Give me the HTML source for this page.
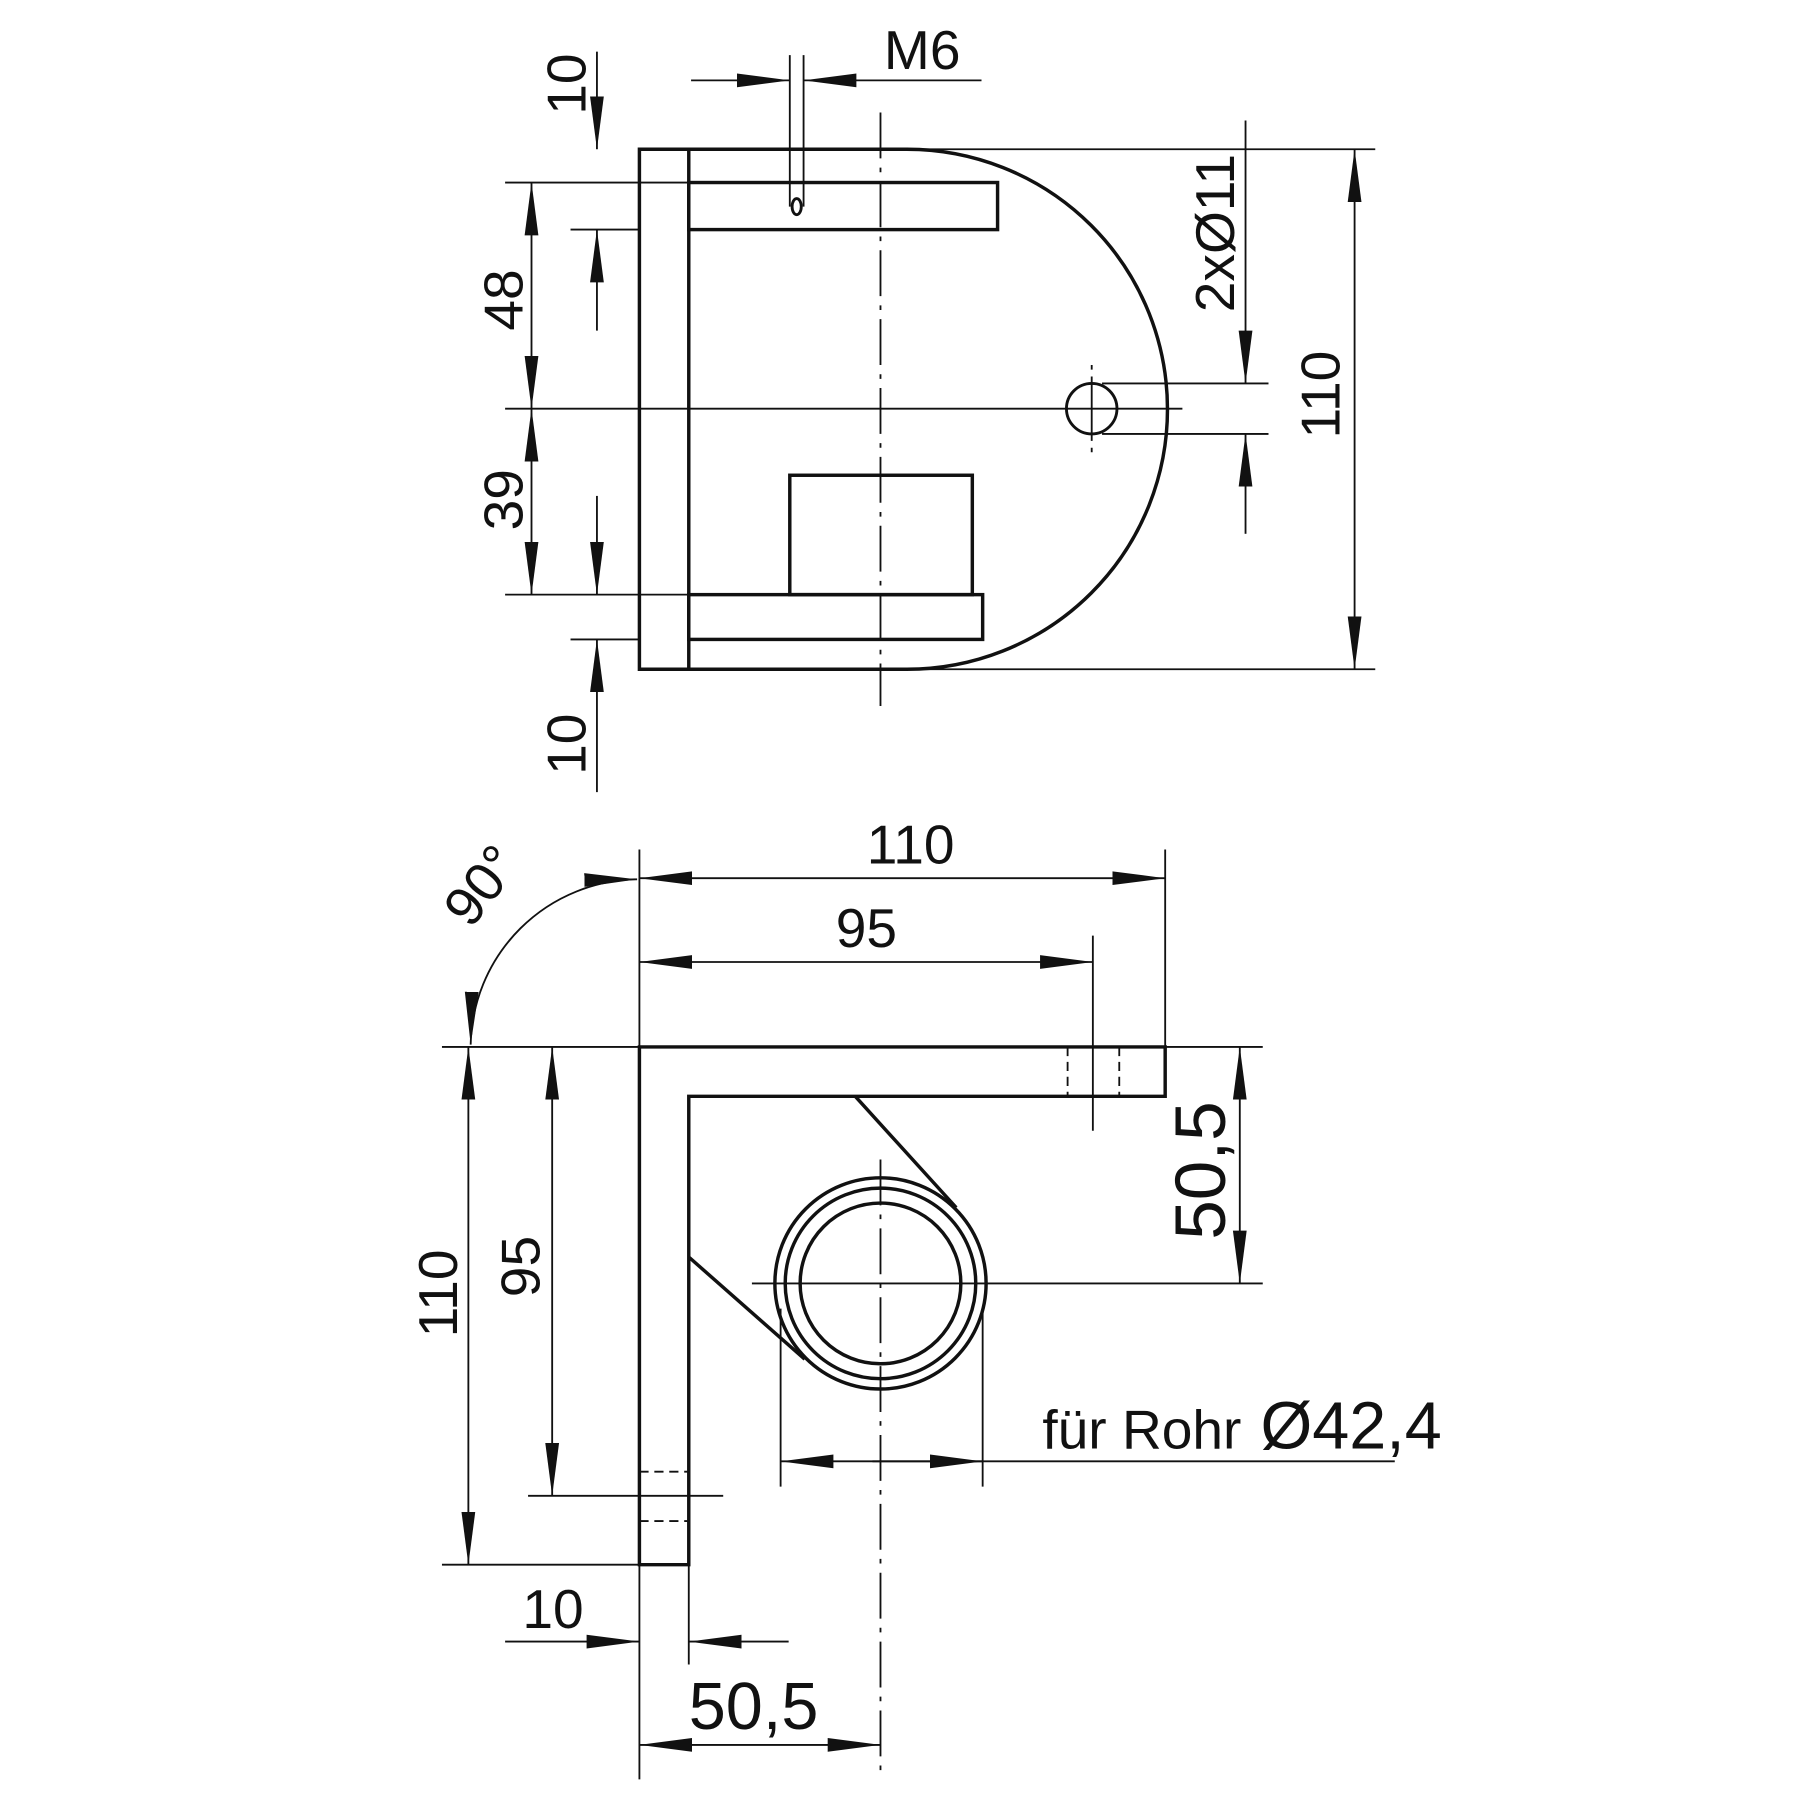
<!DOCTYPE html>
<html><head><meta charset="utf-8"><style>html,body{margin:0;padding:0;background:#fff}svg{display:block}text{font-family:"Liberation Sans",sans-serif;fill:#111}</style></head><body>
<svg width="1800" height="1800" viewBox="0 0 1568 1568" xmlns="http://www.w3.org/2000/svg">
<defs>
<marker id="a" markerUnits="userSpaceOnUse" markerWidth="48" markerHeight="14" refX="46" refY="7" orient="auto-start-reverse"><path d="M0,1 L46,7 L0,13 Z" fill="#111"/></marker>
</defs>
<g stroke="#111" fill="none" stroke-width="2.5">
<path d="M557,130 L790,130 A227,226.5 0 0 1 790,583 L557,583 Z" stroke-width="3"/>
<line x1="600" y1="130" x2="600" y2="583" stroke-width="3"/>
<rect x="600" y="159" width="269" height="41" stroke-width="3"/>
<rect x="600" y="518" width="256" height="39" stroke-width="3"/>
<rect x="688" y="414" width="159" height="104" stroke-width="3"/>
<ellipse cx="694" cy="180" rx="4" ry="7"/>
<circle cx="951" cy="356" r="22"/>
</g>
<g stroke="#111" fill="none" stroke-width="1.6">
<line x1="767" y1="98" x2="767" y2="615" stroke-dasharray="40,8,4,8"/>
<line x1="951" y1="318" x2="951" y2="396" stroke-dasharray="4,6,56,6,4"/>
<line x1="440" y1="356" x2="1030" y2="356"/>
<line x1="960" y1="334" x2="1105" y2="334"/>
<line x1="960" y1="378" x2="1105" y2="378"/>
<line x1="1085" y1="105" x2="1085" y2="334" marker-end="url(#a)"/>
<line x1="1085" y1="465" x2="1085" y2="378" marker-end="url(#a)"/>
<line x1="790" y1="130" x2="1198" y2="130"/>
<line x1="790" y1="583" x2="1198" y2="583"/>
<line x1="1180" y1="130" x2="1180" y2="583" marker-start="url(#a)" marker-end="url(#a)"/>
<line x1="688" y1="48" x2="688" y2="180"/>
<line x1="700" y1="48" x2="700" y2="180"/>
<line x1="602" y1="70" x2="688" y2="70" marker-end="url(#a)"/>
<line x1="855" y1="70" x2="700" y2="70" marker-end="url(#a)"/>
<line x1="440" y1="159" x2="600" y2="159"/>
<line x1="497" y1="200" x2="557" y2="200"/>
<line x1="440" y1="518" x2="600" y2="518"/>
<line x1="497" y1="557" x2="557" y2="557"/>
<line x1="520" y1="45" x2="520" y2="130" marker-end="url(#a)"/>
<line x1="520" y1="288" x2="520" y2="200" marker-end="url(#a)"/>
<line x1="463" y1="159" x2="463" y2="356" marker-start="url(#a)" marker-end="url(#a)"/>
<line x1="463" y1="356" x2="463" y2="518" marker-start="url(#a)" marker-end="url(#a)"/>
<line x1="520" y1="432" x2="520" y2="518" marker-end="url(#a)"/>
<line x1="520" y1="690" x2="520" y2="557" marker-end="url(#a)"/>
</g>
<g font-size="48">
<text x="770" y="60">M6</text>
<text transform="translate(1075,272) rotate(-90)">2xØ11</text>
<text transform="translate(1167,382) rotate(-90)">110</text>
<text transform="translate(510,100) rotate(-90)">10</text>
<text transform="translate(455,288) rotate(-90)">48</text>
<text transform="translate(455,462) rotate(-90)">39</text>
<text transform="translate(510,675) rotate(-90)">10</text>
</g>
<g stroke="#111" fill="none" stroke-width="3">
<path d="M557,912 L1015,912 L1015,955 L600,955 L600,1363 L557,1363 Z"/>
<line x1="745" y1="955" x2="833" y2="1052"/>
<line x1="600" y1="1095" x2="701" y2="1184"/>
<circle cx="767" cy="1118" r="92"/>
<circle cx="767" cy="1118" r="83"/>
<circle cx="767" cy="1118" r="70"/>
</g>
<g stroke="#111" fill="none" stroke-width="1.6">
<line x1="767" y1="1010" x2="767" y2="1550" stroke-dasharray="40,8,4,8"/>
<line x1="655" y1="1118" x2="1100" y2="1118"/>
<line x1="680" y1="1140" x2="680" y2="1295"/>
<line x1="856" y1="1140" x2="856" y2="1295"/>
<line x1="680" y1="1273" x2="1215" y2="1273" marker-start="url(#a)"/>
<line x1="760" y1="1273" x2="856" y2="1273" marker-end="url(#a)"/>
<line x1="930" y1="912" x2="930" y2="955" stroke-dasharray="8,5"/>
<line x1="975" y1="912" x2="975" y2="955" stroke-dasharray="8,5"/>
<line x1="952" y1="815" x2="952" y2="985"/>
<line x1="557" y1="1282" x2="600" y2="1282" stroke-dasharray="8,5"/>
<line x1="557" y1="1325" x2="600" y2="1325" stroke-dasharray="8,5"/>
<line x1="460" y1="1303" x2="630" y2="1303"/>
<line x1="557" y1="740" x2="557" y2="1550"/>
<line x1="1015" y1="740" x2="1015" y2="912"/>
<line x1="557" y1="765" x2="1015" y2="765" marker-start="url(#a)" marker-end="url(#a)"/>
<line x1="557" y1="838" x2="952" y2="838" marker-start="url(#a)" marker-end="url(#a)"/>
<path d="M555,766 A147,147 0 0 0 410,910" marker-start="url(#a)" marker-end="url(#a)"/>
<line x1="385" y1="912" x2="1100" y2="912"/>
<line x1="385" y1="1363" x2="557" y2="1363"/>
<line x1="408" y1="912" x2="408" y2="1363" marker-start="url(#a)" marker-end="url(#a)"/>
<line x1="481" y1="912" x2="481" y2="1303" marker-start="url(#a)" marker-end="url(#a)"/>
<line x1="1080" y1="912" x2="1080" y2="1118" marker-start="url(#a)" marker-end="url(#a)"/>
<line x1="600" y1="1363" x2="600" y2="1450"/>
<line x1="440" y1="1430" x2="557" y2="1430" marker-end="url(#a)"/>
<line x1="687" y1="1430" x2="600" y2="1430" marker-end="url(#a)"/>
<line x1="557" y1="1520" x2="767" y2="1520" marker-start="url(#a)" marker-end="url(#a)"/>
</g>
<g font-size="48">
<text x="755" y="752">110</text>
<text x="728" y="825">95</text>
<text transform="translate(410,810) rotate(-52)">90°</text>
<text transform="translate(398,1165) rotate(-90)">110</text>
<text transform="translate(470,1130) rotate(-90)">95</text>
<text x="455" y="1418">10</text>
<text x="908" y="1262">für Rohr</text>
<text x="1098" y="1262" font-size="58">Ø42,4</text>
<text transform="translate(1067,1080) rotate(-90)" font-size="62">50,5</text>
<text x="600" y="1506" font-size="58">50,5</text>
</g>
</svg>
</body></html>
